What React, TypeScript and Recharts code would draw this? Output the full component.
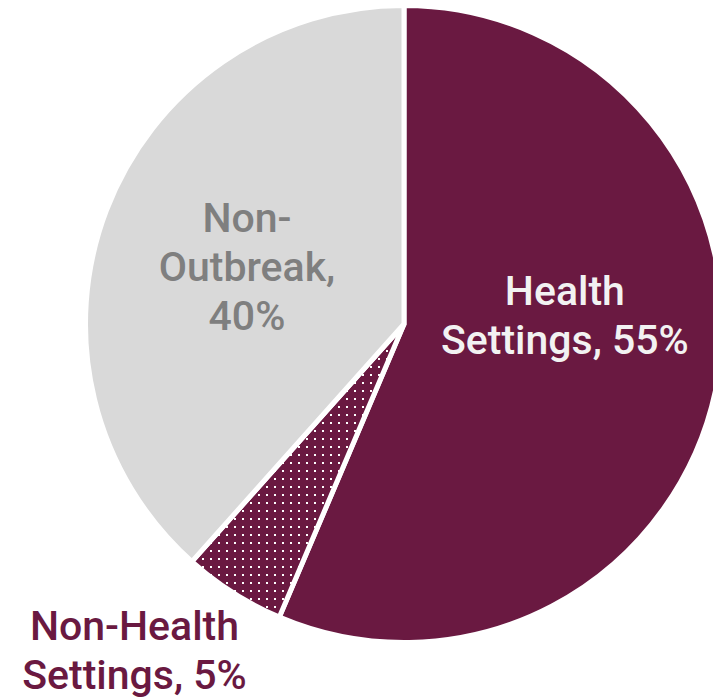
import React from 'react';
import { PieChart, Pie, Cell } from 'recharts';

// ---- data ----
const categories = ['Health Settings', 'Non-Health Settings', 'Non-Outbreak'];
const shares = [56.4, 5.2, 38.4];
const labelLines: string[][] = [
  ['Health', 'Settings, 55%'],
  ['Non-Health', 'Settings, 5%'],
  ['Non-', 'Outbreak,', '40%'],
];

const data = categories.map((name, i) => ({ name, value: shares[i] }));

// ---- styling ----
const MAROON = '#6A1941';
const GRAY = '#D9D9D9';
const fills = [MAROON, 'url(#dotFill)', GRAY];
const labelColors = ['#F2F2F2', MAROON, '#7F7F7F'];
// label placement relative to each slice (fraction of radius, angular shift in degrees clockwise, vertical nudge)
const labelPlace = [
  { rf: 0.506, dAng: -14.9, dy: 0 },
  { rf: 1.336, dAng: 6.9, dy: -3 },
  { rf: 0.525, dAng: -0.8, dy: 0 },
];
const FONT = 41;
const LINE = 49;
const FONT_FAMILY = "Roboto, 'Liberation Sans', Arial, sans-serif";

function renderLabel(props: any) {
  const { cx, cy, midAngle, outerRadius, index } = props;
  const place = labelPlace[index];
  const theta = ((90 - midAngle + place.dAng) * Math.PI) / 180;
  const r = outerRadius * place.rf;
  const x = cx + r * Math.sin(theta);
  const y = cy - r * Math.cos(theta) + place.dy;
  const lines = labelLines[index];
  const firstBase = y - ((lines.length - 1) * LINE) / 2 + FONT * 0.355;
  return (
    <text
      key={`lbl-${index}`}
      x={x}
      y={firstBase}
      textAnchor="middle"
      fill={labelColors[index]}
      fontSize={FONT}
      fontWeight={500}
      fontFamily={FONT_FAMILY}
    >
      {lines.map((t, j) => (
        <tspan key={j} x={x} dy={j === 0 ? 0 : LINE}>
          {t}
        </tspan>
      ))}
    </text>
  );
}

export default function App() {
  return (
    <div style={{ position: 'absolute', left: 0, top: 0, width: 713, height: 698, background: '#fff' }}>
      <PieChart width={713} height={698} margin={{ top: 0, right: 0, bottom: 0, left: 0 }}>
        <defs>
          <pattern id="dotFill" patternUnits="userSpaceOnUse" x={0} y={0} width={8} height={8}>
            <rect x={0} y={0} width={8} height={8} fill={MAROON} />
            <rect x={2} y={6} width={2} height={2} fill="#ffffff" />
          </pattern>
        </defs>
        <Pie
          data={data}
          dataKey="value"
          nameKey="name"
          cx={404}
          cy={324}
          outerRadius={318.5}
          startAngle={90}
          endAngle={-270}
          stroke="#ffffff"
          strokeWidth={5}
          isAnimationActive={false}
          label={renderLabel}
          labelLine={false}
        >
          {data.map((d, i) => (
            <Cell key={d.name} fill={fills[i]} />
          ))}
        </Pie>
      </PieChart>
    </div>
  );
}
